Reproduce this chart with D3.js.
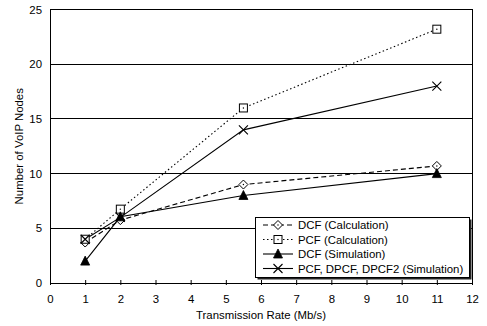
<!DOCTYPE html>
<html>
<head>
<meta charset="utf-8">
<script src="https://cdn.jsdelivr.net/npm/d3@7"></script>
<style>
  body { margin: 0; background: #fff; }
  svg { display: block; font-family: "Liberation Sans", Arial, sans-serif; }
</style>
</head>
<body>
<div id="canvas"></div>
<script>
// global const
const width = 487, height = 326;
const margin = { left: 50, right: 15, top: 9.5, bottom: 43 };
const fontSize = 11.4;

// data
const rates = [1, 2, 5.5, 11];
const dcfCalc = [3.7, 5.75, 9, 10.7];
const pcfCalc = [4, 6.75, 16, 23.2];
const dcfSim = [2, 6.05, 8, 10];
const pcfSim = [4, 6, 14, 18];
const seriesNames = ["DCF (Calculation)", "PCF (Calculation)", "DCF (Simulation)", "PCF, DPCF, DPCF2 (Simulation)"];
const xTicks = [0, 1, 2, 3, 4, 5, 6, 7, 8, 9, 10, 11, 12];
const yTicks = [0, 5, 10, 15, 20, 25];

const series = [
    { name: seriesNames[0], values: dcfCalc, dash: "5,3", marker: "diamond" },
    { name: seriesNames[1], values: pcfCalc, dash: "1.5,2.5", marker: "square" },
    { name: seriesNames[2], values: dcfSim, dash: null, marker: "triangle" },
    { name: seriesNames[3], values: pcfSim, dash: null, marker: "cross" }
];

var canvas = d3.select("#canvas")
    .append("svg")
    .attr("width", width)
    .attr("height", height)

var xScale = d3.scaleLinear()
    .domain([0, 12])
    .range([margin.left, width - margin.right])

var yScale = d3.scaleLinear()
    .domain([0, 25])
    .range([height - margin.bottom, margin.top])

// grid lines
canvas.selectAll(".grid")
    .data(yTicks.filter(t => t > 0 && t < 25))
    .join("line")
    .attr("x1", xScale(0))
    .attr("x2", xScale(12))
    .attr("y1", d => yScale(d))
    .attr("y2", d => yScale(d))
    .attr("stroke", "#000")
    .attr("stroke-width", 1)
    .attr("shape-rendering", "crispEdges")

// plot frame
canvas.append("rect")
    .attr("x", xScale(0))
    .attr("y", yScale(25))
    .attr("width", xScale(12) - xScale(0))
    .attr("height", yScale(0) - yScale(25))
    .attr("fill", "none")
    .attr("stroke", "#000")
    .attr("stroke-width", 1)
    .attr("shape-rendering", "crispEdges")

// x axis
var xAxis = d3.axisBottom(xScale)
    .tickValues(xTicks)
    .tickSizeInner(-3)
    .tickSizeOuter(0)
    .tickPadding(12)
    .tickFormat(d3.format("d"))

var gx = canvas.append("g")
    .attr("transform", `translate(0, ${yScale(0)})`)
    .call(xAxis)
gx.select(".domain").remove()
gx.selectAll(".tick line").attr("y2", 2).attr("y1", -3)
gx.selectAll("text").attr("font-size", fontSize).attr("fill", "#000").attr("font-family", "Liberation Sans, Arial, sans-serif")

// y axis
var yAxis = d3.axisLeft(yScale)
    .tickValues(yTicks)
    .tickSize(0)
    .tickPadding(8)

var gy = canvas.append("g")
    .attr("transform", `translate(${xScale(0)}, 0)`)
    .call(yAxis)
gy.select(".domain").remove()
gy.selectAll("text").attr("font-size", fontSize).attr("fill", "#000").attr("font-family", "Liberation Sans, Arial, sans-serif")

// axis titles
canvas.append("text")
    .attr("x", (xScale(0) + xScale(12)) / 2)
    .attr("y", 319)
    .attr("text-anchor", "middle")
    .attr("font-size", fontSize)
    .text("Transmission Rate (Mb/s)")

canvas.append("text")
    .attr("transform", `translate(23, ${(yScale(0) + yScale(25)) / 2}) rotate(-90)`)
    .attr("text-anchor", "middle")
    .attr("font-size", fontSize)
    .text("Number of VoIP Nodes")

// marker drawing helper
const drawMarker = (g, type, x, y) => {
    if (type === "diamond") {
        g.append("path")
            .attr("d", `M ${x} ${y - 4.5} L ${x + 4.5} ${y} L ${x} ${y + 4.5} L ${x - 4.5} ${y} Z`)
            .attr("fill", "#fff")
            .attr("stroke", "#000")
            .attr("stroke-width", 1)
        g.append("circle").attr("cx", x).attr("cy", y).attr("r", 0.7).attr("fill", "#000")
    } else if (type === "square") {
        g.append("rect")
            .attr("x", x - 4)
            .attr("y", y - 4)
            .attr("width", 8)
            .attr("height", 8)
            .attr("fill", "#fff")
            .attr("stroke", "#000")
            .attr("stroke-width", 1)
        g.append("circle").attr("cx", x).attr("cy", y).attr("r", 0.7).attr("fill", "#000")
    } else if (type === "triangle") {
        g.append("path")
            .attr("d", `M ${x} ${y - 5} L ${x + 4.5} ${y + 4} L ${x - 4.5} ${y + 4} Z`)
            .attr("fill", "#000")
            .attr("stroke", "#000")
            .attr("stroke-width", 0.8)
    } else {
        g.append("path")
            .attr("d", `M ${x - 4.5} ${y - 4.5} L ${x + 4.5} ${y + 4.5} M ${x + 4.5} ${y - 4.5} L ${x - 4.5} ${y + 4.5}`)
            .attr("fill", "none")
            .attr("stroke", "#000")
            .attr("stroke-width", 1.1)
    }
}

// lines
var line = d3.line()
    .x(d => xScale(d[0]))
    .y(d => yScale(d[1]))

series.forEach(s => {
    var pts = rates.map((r, i) => [r, s.values[i]])
    canvas.append("path")
        .datum(pts)
        .attr("d", line)
        .attr("fill", "none")
        .attr("stroke", "#000")
        .attr("stroke-width", 1.1)
        .attr("stroke-dasharray", s.dash)
})

// markers on top
series.forEach(s => {
    var g = canvas.append("g")
    rates.forEach((r, i) => drawMarker(g, s.marker, xScale(r), yScale(s.values[i])))
})

// legend with a small drop shadow
const legend = { x: 255, y: 217, w: 214, h: 60 }
canvas.append("rect")
    .attr("x", legend.x + 2.5)
    .attr("y", legend.y + 2.5)
    .attr("width", legend.w)
    .attr("height", legend.h)
    .attr("fill", "#222")
canvas.append("rect")
    .attr("x", legend.x)
    .attr("y", legend.y)
    .attr("width", legend.w)
    .attr("height", legend.h)
    .attr("fill", "#fff")
    .attr("stroke", "#000")
    .attr("stroke-width", 1)
    .attr("shape-rendering", "crispEdges")

series.forEach((s, i) => {
    var cy = legend.y + 8 + i * 14.5
    var g = canvas.append("g")
    g.append("line")
        .attr("x1", 263)
        .attr("x2", 293)
        .attr("y1", cy)
        .attr("y2", cy)
        .attr("stroke", "#000")
        .attr("stroke-width", 1.1)
        .attr("stroke-dasharray", s.dash)
    drawMarker(g, s.marker, 278, cy)
    g.append("text")
        .attr("x", 298)
        .attr("y", cy + 4)
        .attr("font-size", fontSize)
        .text(s.name)
})
</script>
</body>
</html>
